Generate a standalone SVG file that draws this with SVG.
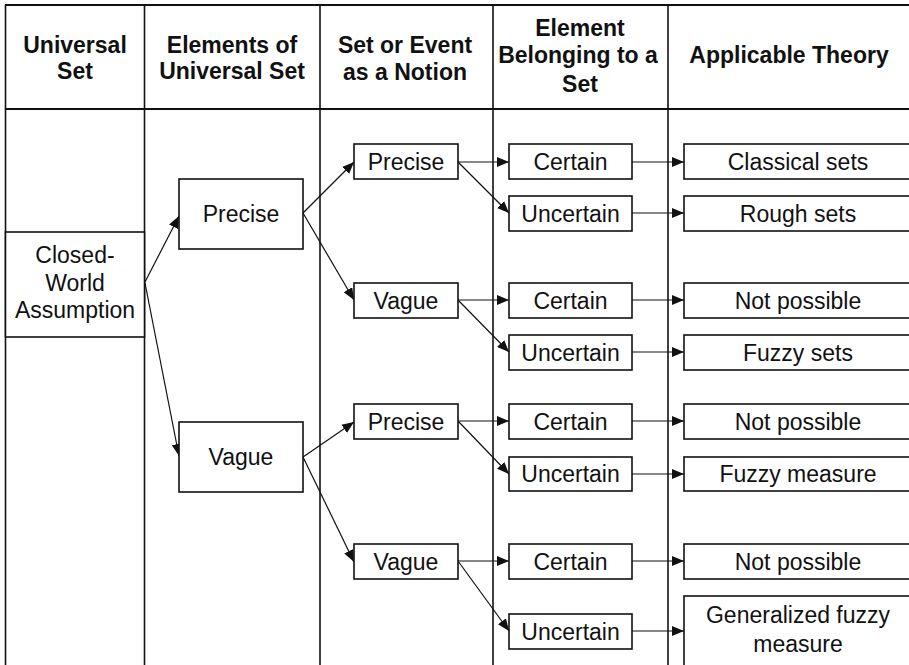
<svg xmlns="http://www.w3.org/2000/svg" width="909" height="665" viewBox="0 0 909 665">
  <style>
    .grid { stroke: #111; stroke-width: 1.6; fill: none; }
    .rule { stroke: #111; stroke-width: 2.2; fill: none; }
    .box { fill: #fff; stroke: #111; stroke-width: 1.6; }
    .head { font-family: "Liberation Sans", Arial, Helvetica, sans-serif; font-weight: bold; font-size: 23px; fill: #111; text-anchor: middle; }
    .lbl { font-family: "Liberation Sans", Arial, Helvetica, sans-serif; font-size: 23px; fill: #111; text-anchor: middle; }
    .conn { stroke: #111; stroke-width: 1.2; fill: none; marker-end: url(#arrow); }
  </style>
  <defs>
    <marker id="arrow" markerUnits="userSpaceOnUse" markerWidth="12" markerHeight="10" refX="12" refY="5" orient="auto">
      <path d="M0,0 L12,5 L0,10 z" fill="#111"/>
    </marker>
  </defs>
  <rect width="909" height="665" fill="#fff"/>

  <!-- table frame and column rules -->
  <g id="table">
    <line class="rule" x1="5" y1="5" x2="909" y2="5"/>
    <line class="rule" x1="5" y1="109" x2="909" y2="109"/>
    <line class="grid" x1="5.5" y1="5" x2="5.5" y2="665"/>
    <line class="grid" x1="144.5" y1="5" x2="144.5" y2="665"/>
    <line class="grid" x1="320" y1="5" x2="320" y2="665"/>
    <line class="grid" x1="493" y1="5" x2="493" y2="665"/>
    <line class="grid" x1="668" y1="5" x2="668" y2="665"/>
  </g>

  <!-- column headings -->
  <g id="headings">
    <text class="head" x="75" y="53">Universal</text>
    <text class="head" x="75" y="79">Set</text>
    <text class="head" x="232" y="53">Elements of</text>
    <text class="head" x="232" y="79">Universal Set</text>
    <text class="head" x="405" y="53">Set or Event</text>
    <text class="head" x="405" y="80">as a Notion</text>
    <text class="head" x="580" y="36">Element</text>
    <text class="head" x="578" y="63">Belonging to a</text>
    <text class="head" x="580" y="92">Set</text>
    <text class="head" x="789" y="63">Applicable Theory</text>
  </g>

  <!-- connectors -->
  <g id="connectors">
    <path class="conn" d="M145,282 L179,216"/>
    <path class="conn" d="M145,283 L179,456"/>
    <path class="conn" d="M303,213 L354,162"/>
    <path class="conn" d="M303,213 L354,300"/>
    <path class="conn" d="M303,457 L354,422"/>
    <path class="conn" d="M303,457 L354,562"/>
    <path class="conn" d="M458,162 L509,162"/>
    <path class="conn" d="M458,162 L509,213"/>
    <path class="conn" d="M458,300 L509,300"/>
    <path class="conn" d="M458,300 L509,352"/>
    <path class="conn" d="M458,421 L509,421"/>
    <path class="conn" d="M458,421 L509,474"/>
    <path class="conn" d="M458,561 L509,561"/>
    <path class="conn" d="M458,561 L509,631"/>
    <path class="conn" d="M632,162 L684,162"/>
    <path class="conn" d="M632,213 L684,213"/>
    <path class="conn" d="M632,300 L684,300"/>
    <path class="conn" d="M632,352 L684,352"/>
    <path class="conn" d="M632,421 L684,421"/>
    <path class="conn" d="M632,474 L684,474"/>
    <path class="conn" d="M632,561 L684,561"/>
    <path class="conn" d="M632,631 L684,631"/>
  </g>

  <!-- universal set -->
  <g id="closed-world">
    <rect class="box" x="5.5" y="232" width="139" height="105"/>
    <text class="lbl" x="75" y="263">Closed-</text>
    <text class="lbl" x="75" y="291">World</text>
    <text class="lbl" x="75" y="318">Assumption</text>
  </g>

  <!-- elements of universal set -->
  <g id="elem-precise">
    <rect class="box" x="179" y="179" width="124" height="70"/>
    <text class="lbl" x="241" y="222">Precise</text>
  </g>
  <g id="elem-vague">
    <rect class="box" x="179" y="422" width="124" height="70"/>
    <text class="lbl" x="241" y="465">Vague</text>
  </g>

  <!-- set or event as a notion -->
  <g id="notion-precise-1">
    <rect class="box" x="354" y="144" width="104" height="35"/>
    <text class="lbl" x="406" y="170">Precise</text>
  </g>
  <g id="notion-vague-1">
    <rect class="box" x="354" y="283" width="104" height="35"/>
    <text class="lbl" x="406" y="309">Vague</text>
  </g>
  <g id="notion-precise-2">
    <rect class="box" x="354" y="404" width="104" height="35"/>
    <text class="lbl" x="406" y="430">Precise</text>
  </g>
  <g id="notion-vague-2">
    <rect class="box" x="354" y="544" width="104" height="35"/>
    <text class="lbl" x="406" y="570">Vague</text>
  </g>

  <!-- element belonging to a set -->
  <g id="certain-1">
    <rect class="box" x="509" y="144" width="123" height="35"/>
    <text class="lbl" x="570.5" y="170">Certain</text>
  </g>
  <g id="uncertain-1">
    <rect class="box" x="509" y="196" width="123" height="35"/>
    <text class="lbl" x="570.5" y="222">Uncertain</text>
  </g>
  <g id="certain-2">
    <rect class="box" x="509" y="283" width="123" height="35"/>
    <text class="lbl" x="570.5" y="309">Certain</text>
  </g>
  <g id="uncertain-2">
    <rect class="box" x="509" y="335" width="123" height="35"/>
    <text class="lbl" x="570.5" y="361">Uncertain</text>
  </g>
  <g id="certain-3">
    <rect class="box" x="509" y="404" width="123" height="35"/>
    <text class="lbl" x="570.5" y="430">Certain</text>
  </g>
  <g id="uncertain-3">
    <rect class="box" x="509" y="457" width="123" height="34"/>
    <text class="lbl" x="570.5" y="482">Uncertain</text>
  </g>
  <g id="certain-4">
    <rect class="box" x="509" y="544" width="123" height="35"/>
    <text class="lbl" x="570.5" y="570">Certain</text>
  </g>
  <g id="uncertain-4">
    <rect class="box" x="509" y="614" width="123" height="35"/>
    <text class="lbl" x="570.5" y="640">Uncertain</text>
  </g>

  <!-- applicable theory -->
  <g id="theory-classical">
    <rect class="box" x="684" y="144" width="235" height="35"/>
    <text class="lbl" x="798" y="170">Classical sets</text>
  </g>
  <g id="theory-rough">
    <rect class="box" x="684" y="196" width="235" height="35"/>
    <text class="lbl" x="798" y="222">Rough sets</text>
  </g>
  <g id="theory-none-1">
    <rect class="box" x="684" y="283" width="235" height="35"/>
    <text class="lbl" x="798" y="309">Not possible</text>
  </g>
  <g id="theory-fuzzy-sets">
    <rect class="box" x="684" y="335" width="235" height="35"/>
    <text class="lbl" x="798" y="361">Fuzzy sets</text>
  </g>
  <g id="theory-none-2">
    <rect class="box" x="684" y="404" width="235" height="35"/>
    <text class="lbl" x="798" y="430">Not possible</text>
  </g>
  <g id="theory-fuzzy-measure">
    <rect class="box" x="684" y="457" width="235" height="34"/>
    <text class="lbl" x="798" y="482">Fuzzy measure</text>
  </g>
  <g id="theory-none-3">
    <rect class="box" x="684" y="544" width="235" height="35"/>
    <text class="lbl" x="798" y="570">Not possible</text>
  </g>
  <g id="theory-generalized">
    <rect class="box" x="684" y="596" width="235" height="90"/>
    <text class="lbl" x="798" y="623">Generalized fuzzy</text>
    <text class="lbl" x="798" y="652">measure</text>
  </g>
</svg>
